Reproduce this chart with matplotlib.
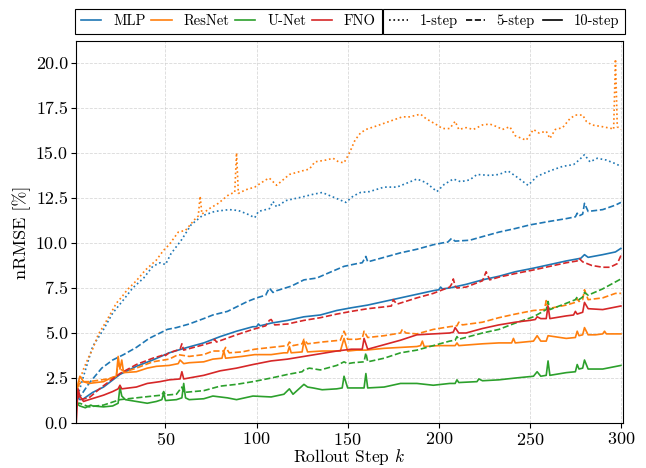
import matplotlib
matplotlib.use("Agg")
import matplotlib.pyplot as plt
from matplotlib.lines import Line2D

plt.rcParams["font.family"] = "serif"
plt.rcParams["font.serif"] = ["cmr10"]
plt.rcParams["mathtext.fontset"] = "cm"
plt.rcParams["axes.formatter.use_mathtext"] = True

# MLP
mlp_1_k = [1, 3, 5, 10, 16, 21, 27, 32, 38, 43, 47, 50, 53, 59, 64, 70, 77, 85, 90, 95, 99, 101, 107, 109, 111,
           116, 125, 131, 136, 142, 149, 153, 157, 162, 170, 177, 182, 188, 193, 199, 203, 208, 212, 217, 221,
           228, 233, 238, 243, 249, 254, 261, 268, 274, 277, 280, 283, 287, 292, 297, 300]
mlp_1_v = [1.3, 1.9, 2.6, 4.25, 5.2, 6.1, 6.85, 7.5, 8.05, 8.7, 8.9, 8.8, 9.4, 10.2, 11.0, 11.5, 11.75, 11.85, 11.8,
           11.6, 11.4, 11.75, 11.9, 12.3, 12.0, 12.35, 12.55, 12.7, 12.8, 12.55, 12.25, 12.6, 12.8, 12.85, 13.1,
           13.1, 13.3, 13.55, 13.35, 12.85, 13.25, 13.55, 13.4, 13.5, 13.8, 13.75, 13.8, 14.0, 13.65, 13.2, 13.7,
           14.0, 14.25, 14.35, 14.6, 14.9, 14.5, 14.7, 14.6, 14.4, 14.25]
mlp_5_k = [1, 3, 8, 15, 21, 27, 34, 41, 47, 51, 56, 63, 71, 76, 84, 89, 95, 100, 105, 107, 109, 111, 119, 126, 133,
           141, 148, 155, 158, 160, 161, 170, 179, 188, 197, 202, 205, 207, 209, 217, 224, 233, 242, 250, 261, 270,
           275, 276, 277, 279, 280, 282, 290, 297, 300]
mlp_5_v = [1.5, 1.45, 2.2, 3.05, 3.5, 3.8, 4.2, 4.7, 5.0, 5.2, 5.3, 5.5, 5.8, 6.0, 6.2, 6.45, 6.75, 6.95, 7.1, 7.5,
           7.25, 7.35, 7.6, 7.95, 8.05, 8.4, 8.7, 8.85, 8.9, 9.25, 8.95, 9.2, 9.45, 9.65, 9.9, 10.0, 10.05, 10.25,
           10.1, 10.15, 10.35, 10.6, 10.8, 11.0, 11.2, 11.35, 11.45, 11.65, 11.5, 11.6, 12.2, 11.75, 11.85, 12.1,
           12.25]
mlp_10_k = [1, 3, 5, 10, 16, 25, 34, 43, 52, 62, 71, 80, 89, 98, 100, 101, 102, 108, 117, 126, 135, 144, 152, 161,
            170, 179, 188, 197, 200, 201, 202, 206, 215, 224, 233, 242, 252, 261, 270, 278, 280, 282, 290, 297, 300]
mlp_10_v = [1.5, 1.3, 1.35, 1.7, 2.0, 2.7, 3.15, 3.5, 3.9, 4.2, 4.45, 4.8, 5.1, 5.35, 5.35, 5.5, 5.4, 5.55, 5.7, 5.9,
            6.0, 6.25, 6.4, 6.55, 6.75, 6.95, 7.15, 7.35, 7.4, 7.55, 7.45, 7.5, 7.7, 7.95, 8.15, 8.4, 8.6, 8.8, 9.0,
            9.15, 9.35, 9.2, 9.35, 9.5, 9.7]

# ResNet
res_1_k = [1, 3, 5, 8, 10, 13, 16, 20, 23, 26, 29, 34, 39, 45, 49, 52, 57, 61, 66, 68, 69, 70, 74, 79, 85, 88, 89,
           90, 94, 99, 105, 107, 111, 118, 125, 129, 132, 138, 142, 145, 148, 151, 154, 157, 160, 166, 173, 180,
           184, 190, 193, 199, 202, 206, 209, 211, 215, 219, 224, 228, 232, 235, 239, 242, 248, 252, 255, 259, 261,
           264, 268, 272, 275, 279, 281, 284, 290, 295, 296, 297, 298, 300]
res_1_v = [1.3, 2.4, 3.0, 3.7, 4.1, 4.9, 5.4, 6.1, 6.65, 7.0, 7.4, 7.9, 8.5, 9.05, 9.6, 9.9, 10.6, 10.7, 11.3, 11.5,
           12.6, 11.6, 11.9, 12.2, 12.7, 12.8, 15.0, 12.75, 12.95, 13.1, 13.5, 13.6, 13.2, 13.8, 14.0, 14.1, 14.5,
           14.6, 14.7, 14.5, 14.45, 15.0, 15.7, 16.1, 16.3, 16.5, 16.75, 17.0, 17.0, 17.15, 16.9, 16.55, 16.35,
           16.35, 16.75, 16.3, 16.4, 16.3, 16.55, 16.6, 16.45, 16.3, 16.45, 15.95, 15.7, 16.3, 16.1, 16.2, 15.8,
           16.3, 16.4, 16.9, 17.1, 17.1, 16.75, 16.55, 16.45, 16.35, 16.3, 20.2, 16.45, 16.3]
res_5_k = [1, 2, 4, 8, 15, 21, 23, 24, 25, 28, 34, 43, 52, 57, 63, 71, 76, 82, 83, 85, 92, 99, 108, 117, 118, 120,
           125, 126, 128, 136, 146, 148, 150, 155, 158, 159, 161, 170, 179, 180, 182, 188, 197, 206, 210, 211, 213,
           224, 233, 242, 252, 258, 259, 260, 270, 275, 276, 277, 279, 280, 282, 290, 297, 300]
res_5_v = [1.5, 2.1, 2.3, 2.3, 2.4, 2.5, 2.6, 3.3, 3.0, 2.85, 3.05, 3.4, 3.55, 3.8, 3.7, 3.8, 4.0, 4.0, 4.2, 3.9,
           3.95, 4.1, 4.2, 4.3, 4.5, 4.3, 4.4, 4.65, 4.4, 4.5, 4.6, 5.1, 4.65, 4.65, 4.7, 5.1, 4.75, 4.85, 5.0,
           5.2, 5.0, 4.95, 5.2, 5.35, 5.4, 5.6, 5.45, 5.6, 5.85, 6.05, 6.25, 6.3, 6.8, 6.35, 6.55, 6.7, 6.9, 6.75,
           6.85, 7.4, 6.85, 6.95, 7.2, 7.2]
res_10_k = [1, 2, 3, 5, 8, 16, 21, 23, 24, 25, 26, 27, 34, 40, 45, 52, 57, 58, 60, 63, 71, 76, 81, 82, 83, 92, 99,
            108, 115, 117, 118, 119, 125, 126, 128, 136, 146, 148, 150, 155, 160, 170, 179, 188, 190, 191, 192,
            200, 209, 210, 211, 224, 233, 240, 241, 242, 252, 254, 256, 259, 260, 270, 275, 276, 277, 279, 280,
            282, 286, 290, 291, 292, 300]
res_10_v = [1.4, 2.2, 2.6, 2.3, 2.2, 2.3, 2.55, 2.6, 3.7, 3.0, 3.5, 2.8, 2.85, 3.05, 3.15, 3.2, 3.3, 3.5, 3.3, 3.35,
            3.4, 3.55, 3.6, 4.0, 3.6, 3.7, 3.8, 3.8, 3.9, 3.9, 4.25, 3.9, 3.95, 4.55, 3.95, 4.0, 4.0, 4.7, 4.0,
            4.05, 4.05, 4.15, 4.2, 4.25, 4.3, 4.55, 4.25, 4.3, 4.3, 4.45, 4.3, 4.4, 4.45, 4.45, 4.7, 4.45, 4.55,
            4.85, 4.55, 4.55, 4.85, 4.7, 4.75, 5.1, 4.85, 4.9, 5.3, 4.9, 4.9, 4.95, 5.1, 4.95, 4.95]

# U-Net
unet_5_k = [1, 3, 8, 16, 25, 34, 43, 48, 49, 50, 56, 59, 60, 71, 80, 89, 98, 108, 117, 125, 126, 129, 135, 144,
            148, 150, 153, 159, 160, 161, 170, 179, 188, 197, 206, 209, 210, 211, 224, 233, 242, 252, 259, 260,
            261, 270, 275, 276, 277, 279, 280, 282, 290, 300]
unet_5_v = [1.1, 1.1, 0.9, 1.0, 1.3, 1.4, 1.5, 1.55, 1.75, 1.55, 1.6, 2.0, 1.7, 1.8, 2.05, 2.15, 2.3, 2.5, 2.7,
            2.85, 2.95, 3.05, 2.95, 3.2, 3.4, 3.3, 3.35, 3.4, 3.9, 3.4, 3.6, 3.9, 4.05, 4.3, 4.55, 4.6, 4.8, 4.65,
            5.0, 5.2, 5.55, 5.9, 6.3, 6.75, 6.3, 6.65, 6.85, 7.0, 6.85, 7.0, 7.25, 7.1, 7.45, 8.0]
unet_10_k = [1, 3, 6, 9, 10, 16, 21, 24, 25, 26, 28, 34, 40, 45, 48, 49, 50, 56, 59, 60, 61, 63, 71, 76, 84, 89,
             98, 108, 115, 118, 120, 126, 128, 131, 136, 144, 147, 148, 150, 155, 159, 160, 161, 170, 179, 188,
             197, 206, 209, 210, 211, 221, 222, 224, 233, 242, 252, 254, 256, 259, 260, 261, 270, 275, 276, 277,
             279, 280, 282, 290, 300]
unet_10_v = [1.1, 0.95, 0.85, 1.0, 0.95, 0.9, 0.95, 1.1, 2.0, 1.5, 1.3, 1.2, 1.1, 1.2, 1.3, 1.65, 1.25, 1.3, 1.4,
             2.2, 1.4, 1.3, 1.35, 1.5, 1.4, 1.3, 1.5, 1.45, 1.6, 1.9, 1.6, 2.15, 2.0, 1.95, 1.85, 1.9, 1.95, 2.6,
             1.95, 1.95, 1.95, 2.75, 1.95, 2.0, 2.2, 2.2, 2.1, 2.2, 2.2, 2.4, 2.25, 2.3, 2.45, 2.35, 2.4, 2.5, 2.6,
             2.85, 2.6, 2.65, 3.45, 2.65, 2.8, 2.85, 3.25, 3.0, 3.05, 3.5, 3.0, 3.0, 3.2]

# FNO
fno_5_k = [1, 3, 8, 15, 25, 34, 43, 48, 49, 50, 52, 58, 59, 60, 71, 76, 77, 78, 89, 98, 105, 107, 108, 110, 117,
           126, 135, 144, 152, 161, 170, 174, 175, 177, 188, 197, 206, 207, 208, 209, 210, 215, 224, 226, 228,
           233, 242, 252, 261, 270, 276, 277, 279, 284, 290, 294, 298, 300]
fno_5_v = [1.7, 1.3, 1.4, 2.0, 2.75, 3.25, 3.6, 3.75, 3.85, 3.75, 3.9, 4.1, 4.4, 4.05, 4.35, 4.5, 4.65, 4.5, 4.9,
           5.2, 5.4, 5.7, 5.75, 5.45, 5.5, 5.7, 5.85, 6.05, 6.2, 6.35, 6.45, 6.5, 6.85, 6.6, 6.95, 7.2, 7.55, 7.7,
           8.0, 7.6, 7.5, 7.55, 7.9, 8.4, 7.95, 8.1, 8.3, 8.5, 8.7, 8.9, 9.0, 9.15, 8.95, 8.75, 8.65, 8.65, 8.85,
           9.3]
fno_10_k = [1, 2, 3, 5, 8, 16, 21, 24, 25, 26, 34, 40, 47, 52, 58, 59, 60, 71, 80, 89, 98, 108, 117, 126, 135, 144,
            152, 158, 159, 161, 170, 179, 188, 197, 206, 208, 209, 211, 215, 224, 233, 242, 250, 253, 254, 256,
            259, 260, 261, 270, 274, 275, 276, 279, 280, 282, 290, 300]
fno_10_v = [0.0, 1.9, 1.5, 1.2, 1.3, 1.55, 1.75, 1.9, 2.1, 1.9, 2.0, 2.2, 2.3, 2.4, 2.45, 2.85, 2.45, 2.65, 2.9,
            3.05, 3.25, 3.45, 3.55, 3.7, 3.85, 4.0, 4.1, 4.1, 4.7, 4.1, 4.35, 4.6, 4.9, 4.95, 5.0, 5.05, 5.3, 5.0,
            5.0, 5.25, 5.45, 5.6, 5.7, 5.75, 5.9, 5.8, 5.8, 6.5, 5.8, 5.95, 6.0, 6.2, 6.05, 6.15, 6.7, 6.35, 6.3,
            6.5]

models = ["MLP", "ResNet", "U-Net", "FNO"]
colors = ["#1f77b4", "#ff7f0e", "#2ca02c", "#d62728"]
horizons = ["1-step", "5-step", "10-step"]
styles = [":", "--", "-"]

# only MLP and ResNet have a 1-step curve in the figure
series = {
    "MLP": [(mlp_1_k, mlp_1_v), (mlp_5_k, mlp_5_v), (mlp_10_k, mlp_10_v)],
    "ResNet": [(res_1_k, res_1_v), (res_5_k, res_5_v), (res_10_k, res_10_v)],
    "U-Net": [(None, None), (unet_5_k, unet_5_v), (unet_10_k, unet_10_v)],
    "FNO": [(None, None), (fno_5_k, fno_5_v), (fno_10_k, fno_10_v)],
}

fig, ax = plt.subplots(figsize=(6.46, 4.68), dpi=100)
fig.subplots_adjust(left=0.118, right=0.964, top=0.912, bottom=0.096)

for model, color in zip(models, colors):
    for (k, v), ls in zip(series[model], styles):
        if k is None:
            continue
        ax.plot(k, v, color=color, linestyle=ls, linewidth=1.2)

ax.set_xlim(1, 301)
ax.set_ylim(0, 21.2)
ax.set_xticks([50, 100, 150, 200, 250, 300])
ax.set_yticks([0, 2.5, 5, 7.5, 10, 12.5, 15, 17.5, 20])
ax.yaxis.set_major_formatter(matplotlib.ticker.FormatStrFormatter("%.1f"))
ax.tick_params(labelsize=13, length=3.5, pad=2.5)
ax.grid(True, color="#d0d0d0", linestyle="--", linewidth=0.6, alpha=0.8)
ax.set_xlabel("Rollout Step $k$", fontsize=12.5, labelpad=-1)
ax.set_ylabel("nRMSE [%]", fontsize=13, labelpad=3)

model_handles = [Line2D([], [], color=c, linewidth=1.2) for c in colors]
leg1 = ax.legend(model_handles, models, loc="lower left", bbox_to_anchor=(-0.002, 1.018, 0.561, 0.06),
                 mode="expand", ncol=4, borderaxespad=0, fancybox=False, edgecolor="black", framealpha=1,
                 fontsize=10.5, handlelength=1.4, columnspacing=0.7, handletextpad=0.8)
leg1.get_frame().set_linewidth(0.8)
ax.add_artist(leg1)
step_handles = [Line2D([], [], color="black", linestyle=s, linewidth=1.2) for s in styles]
leg2 = ax.legend(step_handles, horizons, loc="lower left", bbox_to_anchor=(0.562, 1.018, 0.442, 0.06),
                 mode="expand", ncol=3, borderaxespad=0, fancybox=False, edgecolor="black", framealpha=1,
                 fontsize=10.5, handlelength=1.3, columnspacing=0.7, handletextpad=0.8)
leg2.get_frame().set_linewidth(0.8)

fig.savefig("out.png", dpi=100)
